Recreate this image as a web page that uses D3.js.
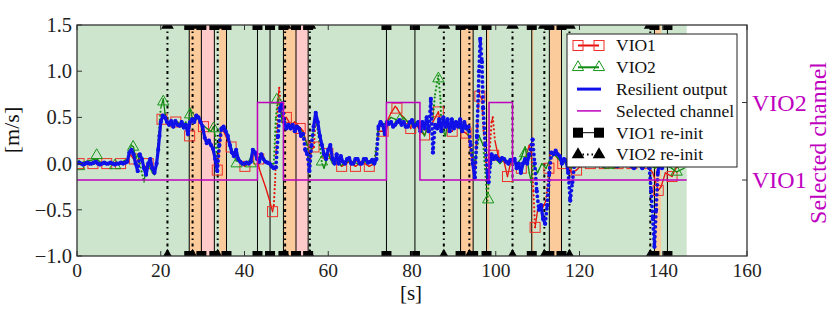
<!DOCTYPE html>
<html><head><meta charset="utf-8">
<script src="https://cdn.jsdelivr.net/npm/d3@7"></script>
<style>body{margin:0;background:#fff} svg{display:block} text{font-family:"Liberation Serif","Times New Roman",serif}</style>
</head><body><svg id="c" width="837" height="310"></svg>
<script>
// ---------- data ----------
const xTicks = [0,20,40,60,80,100,120,140,160];
const yTicks = [-1.0,-0.5,0.0,0.5,1.0,1.5];
const yTickLabels = ["\u22121.0","\u22120.5","0.0","0.5","1.0","1.5"];
const channelNames = ["VIO1","VIO2"];
const channelTicks = [0,1];
const dataEnd = 145.6;

const vio1Reinit = [26.8,29.7,32.8,35.7,43.1,46.1,49.3,52.3,55.2,73.9,80.7,91.6,94.6,97.8,108.6,112.8,115.7,137.9,141.0];
const vio2Reinit = [21.6,27.6,33.6,49.7,55.6,87.6,93.7,104.0,111.6,117.6,136.9];
const orangeSpans = [[26.8,29.7],[34.0,35.7],[49.3,52.3],[91.6,94.6],[97.8,98.4],[108.6,109.0],[112.8,115.7],[137.9,139.5]];
const pinkSpans = [[29.7,32.8],[52.3,55.2]];

const selT = [0,43.1,49.3,73.9,81.9,98.4,104.0,145.6];
const selV = [0,1,0,1,0,1,0,0];

const resilient = [[0,0.0],[0.5,0.01],[1,0.0],[1.5,-0.01],[2,0.0],[2.5,0.01],[3,0.0],[3.5,0.0],[4,0.01],[4.5,0.02],[5,0.0],[5.5,-0.01],[6,0.0],[6.5,0.01],[7,0.0],[7.5,0.0],[8,0.01],[8.5,0.0],[9,-0.01],[9.5,0.0],[10,0.0],[10.5,0.01],[11,0.0],[11.5,0.01],[12,0.02],[12.5,0.12],[13,0.15],[13.5,0.1],[14,0.0],[14.5,-0.08],[15,0.1],[15.5,0.05],[16,-0.05],[16.5,-0.12],[17,0.0],[17.5,0.05],[18,-0.05],[18.5,-0.1],[19,0.0],[19.4,0.15],[19.7,0.3],[20,0.45],[20.5,0.52],[21,0.5],[21.5,0.45],[22,0.42],[22.5,0.46],[23,0.4],[23.5,0.46],[24,0.42],[24.5,0.41],[25,0.45],[25.5,0.39],[26,0.42],[26.5,0.32],[27,0.45],[27.5,0.48],[28,0.45],[28.5,0.52],[29,0.5],[29.5,0.45],[30,0.4],[30.5,0.28],[31,0.22],[31.5,0.25],[32,0.2],[32.5,0.16],[33,0.05],[33.5,-0.08],[34,0.2],[34.5,0.38],[35,0.4],[35.5,0.35],[36,0.3],[36.5,0.2],[37,0.12],[37.5,0.08],[38,0.15],[38.5,0.05],[39,0.02],[39.5,0.0],[40,0.0],[40.5,0.01],[41,0.0],[41.5,0.02],[42,0.15],[42.5,0.12],[43,0.05],[43.5,0.02],[44,0.1],[44.5,0.05],[45,0.02],[45.5,0.01],[46,0.0],[46.5,-0.03],[47,-0.05],[47.5,-0.04],[48,0.3],[48.5,0.6],[49,0.65],[49.5,0.45],[50,0.38],[50.5,0.42],[51,0.38],[51.5,0.42],[52,0.35],[52.5,0.4],[53,0.38],[53.5,0.3],[54,0.32],[54.5,0.15],[55,0.1],[55.5,-0.08],[56,0.2],[56.5,0.4],[57,0.55],[57.5,0.45],[58,0.3],[58.5,0.2],[59,0.1],[59.5,0.05],[60,0.15],[60.5,0.2],[61,0.05],[61.5,0.0],[62,0.1],[62.5,0.0],[63,0.08],[63.5,0.02],[64,0.0],[64.5,0.05],[65,0.06],[65.5,0.0],[66,0.0],[66.5,0.05],[67,0.05],[67.5,0.0],[68,0.0],[68.5,0.05],[69,0.05],[69.5,0.01],[70,0.02],[70.5,0.04],[71,0.0],[71.5,0.05],[72,0.4],[72.5,0.45],[73,0.42],[73.5,0.32],[74,0.45],[74.5,0.43],[75,0.45],[75.5,0.4],[76,0.42],[76.5,0.45],[77,0.47],[77.5,0.42],[78,0.45],[78.5,0.4],[79,0.4],[79.5,0.45],[80,0.47],[80.5,0.4],[81,0.42],[81.5,0.45],[82,0.35],[82.5,0.45],[83,0.38],[83.5,0.5],[84,0.35],[84.5,0.7],[85,0.12],[85.5,0.42],[86,0.38],[86.5,0.48],[87,0.35],[87.5,0.5],[88,0.4],[88.5,0.48],[89,0.35],[89.5,0.48],[90,0.38],[90.5,0.45],[91,0.4],[91.5,0.48],[92,0.35],[92.5,0.45],[93,0.38],[93.5,0.4],[94,0.2],[94.5,0.0],[95,-0.15],[95.5,0.3],[96,1.0],[96.3,1.35],[96.7,1.1],[97,0.6],[97.5,0.2],[98,-0.1],[98.3,-0.2],[98.7,0.0],[99,0.1],[99.5,0.05],[100,0.08],[100.5,0.05],[101,0.03],[101.5,0.06],[102,0.05],[102.5,0.02],[103,0.0],[103.5,0.04],[104,0.03],[104.5,0.05],[105,-0.05],[105.5,0.0],[106,-0.1],[106.5,0.0],[107,0.05],[107.5,0.0],[108,0.1],[108.8,0.26],[109.3,0.0],[109.8,-0.3],[110.3,-0.5],[110.8,-0.45],[111.3,-0.6],[111.8,-0.65],[112.3,-0.45],[112.8,-0.1],[113.3,0.12],[113.8,0.1],[114.3,0.14],[114.8,0.1],[115.3,0.08],[115.8,0.0],[116.3,0.05],[116.8,0.03],[117.3,-0.1],[117.8,-0.4],[118.3,-0.2],[118.8,0.0],[119.3,0.05],[120,0.03],[121,0.05],[122,0.0],[123,0.02],[124,0.0],[125,0.03],[126,-0.02],[127,0.0],[128,0.02],[129,-0.03],[130,0.0],[131,0.02],[132,-0.02],[133,-0.05],[134,0.0],[135,-0.05],[136,0.0],[136.7,-0.05],[137.1,-0.3],[137.5,-0.6],[137.9,-0.9],[138.3,-0.5],[138.7,-0.1],[139.2,0.05],[139.7,-0.05],[140.2,0.05],[140.7,0.0],[141.2,0.05],[142,0.02],[143,0.05],[144,0.0],[145,0.02]];

const vio1 = [[0,0],[3,0.0],[6,0.0],[9,0.0],[12,0.02],[12.5,0.1],[13,0.08],[13.5,0.05],[14,0.0],[15,0.08],[15.5,0.03],[16,-0.05],[17,0.0],[18,-0.05],[18.5,-0.08],[19,0.0],[19.5,0.2],[20,0.48],[20.5,0.5],[21,0.48],[22,0.45],[23,0.42],[24,0.45],[25,0.42],[26,0.4],[26.5,0.3],[27,0.45],[28,0.48],[29,0.5],[30,0.42],[30.5,0.3],[31,0.25],[32,0.2],[33,0.05],[33.5,-0.07],[34,0.2],[34.5,0.38],[35,0.35],[36,0.25],[36.8,0.18],[37.5,0.08],[38,0.12],[39,0.02],[40,-0.03],[41,0.0],[42,0.12],[43,0.08],[43.5,-0.05],[44,-0.12],[45,-0.25],[46,-0.4],[46.7,-0.52],[47,-0.45],[47.3,-0.2],[47.7,0.3],[48,0.7],[48.3,0.82],[48.7,0.6],[49.2,0.5],[50,0.5],[51,0.42],[52,0.45],[53,0.4],[53.5,0.38],[54,0.35],[55,0.2],[55.5,-0.05],[56,0.15],[56.6,0.18],[57,0.5],[58,0.25],[59,0.1],[60,0.12],[61,0.02],[62,0.05],[63.2,-0.03],[65,0.02],[66.5,-0.03],[68,0.02],[69.8,-0.03],[71,0.0],[72,0.35],[73.1,0.35],[74,0.45],[75,0.55],[76,0.62],[76.4,0.6],[77,0.55],[78,0.5],[79,0.45],[79.7,0.38],[80,0.45],[81,0.42],[82,0.35],[83,0.31],[84,0.4],[85,0.45],[86.3,0.56],[87,0.4],[88,0.45],[89,0.35],[89.6,0.35],[90,0.45],[91,0.4],[92,0.35],[92.9,0.33],[93.5,0.3],[94,0.15],[95,-0.1],[95.5,0.3],[96,0.8],[96.2,0.73],[96.7,0.7],[97,0.4],[97.5,0.1],[98,-0.15],[98.5,0.1],[99,0.45],[99.3,0.5],[99.8,0.25],[100.5,0.1],[101,0.05],[102,0.02],[102.8,-0.14],[103.5,0.0],[104,0.05],[105,0.0],[106,-0.05],[107,0.05],[108,0.2],[108.5,0.1],[109,-0.3],[109.4,-0.69],[110,-0.5],[111,-0.5],[112,-0.4],[112.7,-0.05],[113,0.1],[114,0.1],[115,0.05],[116,0.0],[117,0.05],[118,-0.1],[119.3,-0.07],[121,0.0],[124,0.02],[127,0.0],[130,0.02],[133,0.0],[136,0.0],[137.5,-0.1],[138.8,-0.29],[139.5,-0.25],[140.5,-0.1],[142.1,-0.14],[143,-0.05],[145,0.0]];
const vio1Marks = [[0.5,0.0],[3.8,0.0],[7.1,0.0],[10.4,0.0],[13.7,0.05],[17,0.0],[20.3,0.48],[23.6,0.45],[26.9,0.3],[30.2,0.4],[33.5,-0.07],[36.8,0.18],[40.1,-0.03],[43.4,0.05],[46.7,-0.52],[50,0.5],[53.3,0.38],[56.6,0.18],[59.9,0.11],[63.2,-0.03],[66.5,-0.03],[69.8,-0.03],[73.1,0.35],[76.4,0.6],[79.7,0.38],[83,0.31],[86.3,0.56],[89.6,0.35],[92.9,0.33],[96.2,0.73],[99.5,0.09],[102.8,-0.14],[106.1,-0.05],[109.4,-0.69],[112.7,-0.05],[116,0.0],[119.3,-0.07],[122.6,0.0],[125.9,0.0],[129.2,0.0],[132.5,0.0],[135.8,0.0],[138.8,-0.29],[142.1,-0.14]];

const vio2 = [[0,0],[2,0.02],[4.7,0.05],[6,0.0],[8,0.01],[10,0.0],[12,0.05],[13,0.2],[13.5,0.18],[14,0.05],[14.5,0.1],[15,0.0],[16,-0.2],[16.5,-0.05],[17,0.0],[18,-0.1],[18.5,-0.12],[19,0.0],[20,0.6],[20.6,0.7],[21,0.55],[21.5,0.45],[22,0.45],[23,0.42],[24,0.45],[25,0.4],[26,0.45],[26.5,0.35],[27,0.6],[27.5,0.5],[28,0.45],[29,0.5],[30,0.42],[31,0.38],[32,0.35],[32.6,0.4],[33,0.3],[33.5,0.0],[34,0.3],[34.5,0.4],[35,0.38],[36,0.3],[37,0.15],[38,0.03],[39,0.02],[40,0.0],[41,0.0],[42,0.15],[43,0.05],[44,0.1],[45,0.02],[46,0.0],[47,0.0],[47.5,0.5],[48,0.7],[48.5,0.6],[49,0.45],[50,0.4],[51,0.42],[52,0.38],[53,0.4],[54,0.32],[55,0.2],[55.5,-0.05],[56,0.2],[57,0.5],[58,0.2],[58.5,0.0],[59,-0.05],[60,0.1],[61,0.0],[62,0.05],[63,-0.02],[65,0.03],[67,0.0],[69,0.02],[71,0.0],[72,0.4],[73,0.42],[74,0.45],[75,0.5],[76,0.48],[77,0.45],[78,0.5],[79,0.45],[80,0.42],[81,0.45],[82,0.4],[83,0.3],[84,0.45],[85,0.5],[85.5,0.75],[86.3,0.95],[86.8,0.7],[87,0.4],[88,0.3],[88.5,0.45],[89,0.35],[90,0.45],[91,0.4],[92,0.35],[93,0.4],[94,0.2],[95,0.0],[96,0.3],[97,0.2],[97.5,-0.1],[98,-0.4],[98.5,-0.1],[99,0.1],[100,0.05],[101,0.0],[102,0.05],[103,0.0],[104,0.05],[105,0.0],[106,0.05],[107,0.18],[107.5,0.05],[108,-0.1],[108.5,-0.2],[109,0.0],[110,-0.1],[111,0.0],[112,-0.05],[113,0.05],[114,0.1],[115,0.05],[116,0.0],[117,0.02],[118,-0.05],[120,0.0],[122,0.02],[124,0.0],[126,-0.05],[128,-0.05],[130,-0.03],[132,0.0],[134,-0.02],[136,0.0],[138,-0.05],[140,0.0],[142,-0.05],[143.2,-0.09],[145,-0.05]];
const vio2Marks = [[0.5,-0.03],[4.7,0.09],[9.1,-0.02],[13.4,0.18],[20.6,0.67],[27,0.53],[32.6,0.38],[38.1,0.0],[41.5,0.0],[47.7,0.69],[58.5,0.02],[77.1,0.47],[86.3,0.92],[98.2,-0.39],[107,0.11],[143.2,-0.09]];

// ---------- scales ----------
const svg = d3.select("#c");
const x = d3.scaleLinear().domain([0,160]).range([77,747]);
const y = d3.scaleLinear().domain([-1,1.5]).range([256,25]);
const yc = d3.scaleLinear().domain([-0.98,2.0]).range([256,25]);
const T = 25, B = 256, L = 77, R = 747;

svg.append("defs").append("clipPath").attr("id","clip")
  .append("rect").attr("x",L).attr("y",T).attr("width",R-L).attr("height",B-T);
const g = svg.append("g").attr("clip-path","url(#clip)");

g.append("rect").attr("x",x(0)).attr("y",T).attr("width",x(dataEnd)-x(0)).attr("height",B-T).attr("fill","#cce5cc");
g.selectAll(".or").data(orangeSpans).join("rect").attr("x",d=>x(d[0])).attr("y",T)
  .attr("width",d=>x(d[1])-x(d[0])).attr("height",B-T).attr("fill","#fccb9c");
g.selectAll(".pk").data(pinkSpans).join("rect").attr("x",d=>x(d[0])).attr("y",T)
  .attr("width",d=>x(d[1])-x(d[0])).attr("height",B-T).attr("fill","#ffcaca");

// re-init lines
g.selectAll(".l1").data(vio1Reinit).join("line").attr("x1",d=>x(d)).attr("x2",d=>x(d))
  .attr("y1",T).attr("y2",B).attr("stroke","#000").attr("stroke-width",1);
g.selectAll(".l2").data(vio2Reinit).join("line").attr("x1",d=>x(d)).attr("x2",d=>x(d))
  .attr("y1",T).attr("y2",B).attr("stroke","#000").attr("stroke-width",2).attr("stroke-dasharray","3,3.5,1.5,3.5");

// data series: smooth parts solid, steep jumps drawn as dotted trails (sparse samples)
function series(data, color, w, dotW, gap, thr){
  const pairs = d3.pairs(data);
  const sg = g.append("g");
  sg.selectAll("line").data(pairs).join("line")
    .attr("x1",d=>x(d[0][0])).attr("y1",d=>y(d[0][1]))
    .attr("x2",d=>x(d[1][0])).attr("y2",d=>y(d[1][1]))
    .attr("stroke",color).attr("stroke-linecap","round")
    .attr("stroke-width",d=>Math.abs(y(d[1][1])-y(d[0][1]))>thr ? dotW : w)
    .attr("stroke-dasharray",d=>Math.abs(y(d[1][1])-y(d[0][1]))>thr ? `0,${gap}` : null);
  return sg;
}
series(vio1, "#e8100a", 1.3, 2.2, 4, 19);
g.selectAll(".m1").data(vio1Marks).join("rect").attr("x",d=>x(d[0])-5).attr("y",d=>y(d[1])-5)
  .attr("width",10).attr("height",10).attr("fill","none").attr("stroke","#f0302a").attr("stroke-width",1);
series(vio2, "#108a10", 1.3, 2.2, 4, 16);
const tri = d3.symbol(d3.symbolTriangle).size(55);
g.selectAll(".m2").data(vio2Marks).join("path").attr("d",tri)
  .attr("transform",d=>`translate(${x(d[0])},${y(d[1])})`).attr("fill","none").attr("stroke","#1a961a").attr("stroke-width",1);
series(resilient, "#1010e8", 3.2, 3.8, 5, 14);
g.selectAll(".bd").data(resilient).join("circle").attr("cx",d=>x(d[0])).attr("cy",d=>y(d[1])).attr("r",2.1).attr("fill","#1010e8");

// selected channel (twin axis)
const sel = selT.map((t,i)=>[t,selV[i]]);
g.append("path").attr("d",d3.line().curve(d3.curveStepAfter).x(d=>x(d[0])).y(d=>yc(d[1]))(sel))
  .attr("fill","none").attr("stroke","#bf00bf").attr("stroke-width",1.5);

// re-init markers at top & bottom edges
[T,B].forEach(yy=>{
  g.selectAll(null).data(vio1Reinit).join("rect").attr("x",d=>x(d)-5).attr("y",yy-5).attr("width",10).attr("height",10).attr("fill","#000");
  g.selectAll(null).data(vio2Reinit).join("path").attr("d",d3.symbol(d3.symbolTriangle).size(70))
    .attr("transform",d=>`translate(${x(d)},${yy})`).attr("fill","#000");
});

// frame
svg.append("rect").attr("x",L).attr("y",T).attr("width",R-L).attr("height",B-T).attr("fill","none").attr("stroke","#333").attr("stroke-width",1.3);

// ticks
const tk = svg.append("g").attr("stroke","#333").attr("stroke-width",1);
xTicks.forEach(v=>{
  tk.append("line").attr("x1",x(v)).attr("x2",x(v)).attr("y1",B).attr("y2",B-5);
  tk.append("line").attr("x1",x(v)).attr("x2",x(v)).attr("y1",T).attr("y2",T+5);
});
yTicks.forEach(v=>{
  tk.append("line").attr("x1",L).attr("x2",L+5).attr("y1",y(v)).attr("y2",y(v));
});
channelTicks.forEach(v=>{
  tk.append("line").attr("x1",R).attr("x2",R-5).attr("y1",yc(v)).attr("y2",yc(v));
});

// tick labels
svg.selectAll(".xl").data(xTicks).join("text").attr("x",d=>x(d)).attr("y",277).attr("text-anchor","middle")
  .attr("font-size",19.5).attr("fill","#222").text(d=>d);
svg.selectAll(".yl").data(yTicks).join("text").attr("x",72).attr("y",d=>y(d)).attr("dy","0.34em").attr("text-anchor","end")
  .attr("font-size",20.5).attr("fill","#222").text((d,i)=>yTickLabels[i]);
svg.selectAll(".cl").data(channelTicks).join("text").attr("x",752).attr("y",d=>yc(d)).attr("dy","0.34em")
  .attr("font-size",24).attr("fill","#bf00bf").text((d,i)=>channelNames[i]);

// axis labels
svg.append("text").attr("x",411).attr("y",300).attr("text-anchor","middle").attr("font-size",21).attr("fill","#111").text("[s]");
svg.append("text").attr("transform","translate(19,130) rotate(-90)").attr("text-anchor","middle").attr("font-size",22).attr("fill","#111").text("[m/s]");
svg.append("text").attr("transform","translate(826,143) rotate(-90)").attr("text-anchor","middle").attr("font-size",24).attr("fill","#bf00bf").text("Selected channel");

// legend
const lg = svg.append("g");
lg.append("rect").attr("x",567).attr("y",34).attr("width",170).attr("height",133).attr("fill","#fff").attr("stroke","#222").attr("stroke-width",1);
const legendItems = ["VIO1","VIO2","Resilient output","Selected channel","VIO1 re-init","VIO2 re-init"];
const ly = i => 45.5 + i*21.8;
const hx0 = 578, hx1 = 599;
legendItems.forEach((t,i)=>{
  lg.append("text").attr("x",616).attr("y",ly(i)).attr("dy","0.34em").attr("font-size",17.5).attr("fill","#111").text(t);
});
// VIO1
lg.append("line").attr("x1",hx0).attr("x2",hx1).attr("y1",ly(0)).attr("y2",ly(0)).attr("stroke","#e8100a").attr("stroke-width",2);
[hx0,hx1].forEach(px=>lg.append("rect").attr("x",px-5).attr("y",ly(0)-5).attr("width",10).attr("height",10).attr("fill","none").attr("stroke","#f0302a"));
// VIO2
lg.append("line").attr("x1",hx0).attr("x2",hx1).attr("y1",ly(1)).attr("y2",ly(1)).attr("stroke","#108a10").attr("stroke-width",2);
[hx0,hx1].forEach(px=>lg.append("path").attr("d",tri).attr("transform",`translate(${px},${ly(1)})`).attr("fill","none").attr("stroke","#1a961a"));
// Resilient
lg.append("line").attr("x1",577).attr("x2",601).attr("y1",ly(2)).attr("y2",ly(2)).attr("stroke","#1010e8").attr("stroke-width",3);
// Selected
lg.append("line").attr("x1",577).attr("x2",601).attr("y1",ly(3)).attr("y2",ly(3)).attr("stroke","#bf00bf").attr("stroke-width",1.5);
// VIO1 re-init
lg.append("line").attr("x1",hx0).attr("x2",hx1).attr("y1",ly(4)).attr("y2",ly(4)).attr("stroke","#000").attr("stroke-width",1);
[hx0,hx1].forEach(px=>lg.append("rect").attr("x",px-5).attr("y",ly(4)-5).attr("width",10).attr("height",10).attr("fill","#000"));
// VIO2 re-init
lg.append("line").attr("x1",hx0).attr("x2",hx1).attr("y1",ly(5)).attr("y2",ly(5)).attr("stroke","#000").attr("stroke-width",2).attr("stroke-dasharray","1.5,3");
[hx0,hx1].forEach(px=>lg.append("path").attr("d",d3.symbol(d3.symbolTriangle).size(70)).attr("transform",`translate(${px},${ly(5)})`).attr("fill","#000"));
</script></body></html>
